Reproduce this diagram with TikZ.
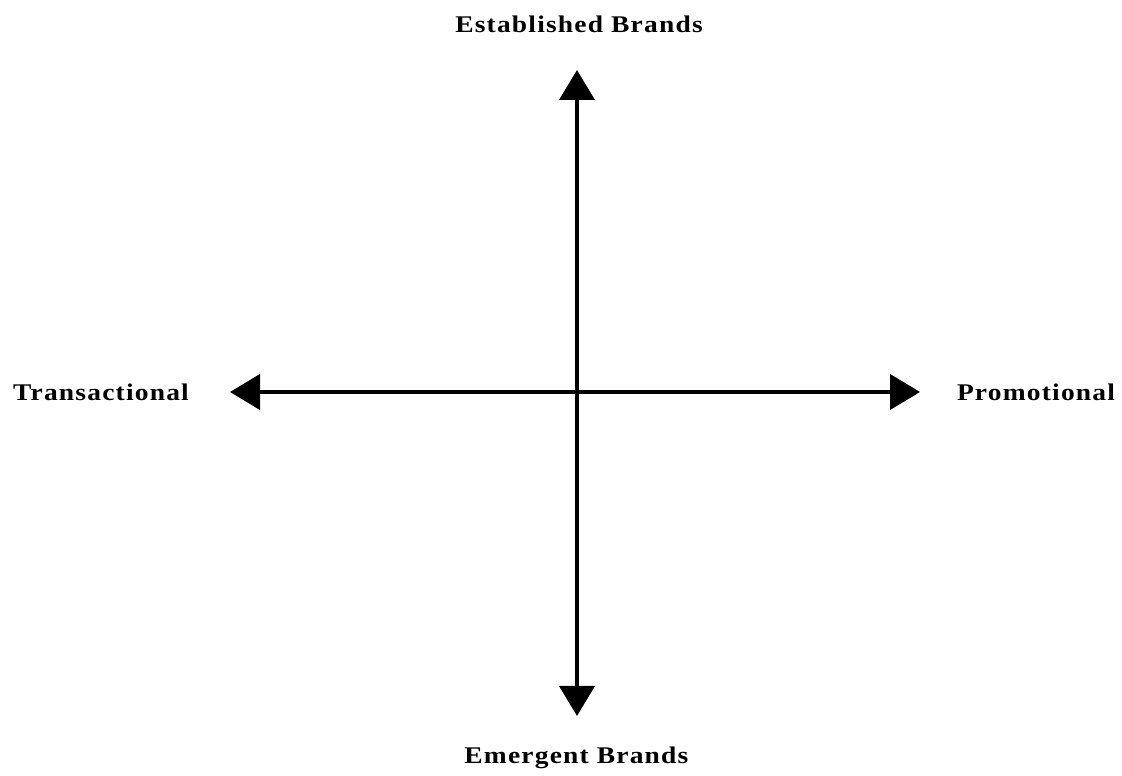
\documentclass[tikz,border=0pt]{standalone}
\usepackage{fontspec}
\setmainfont{Liberation Serif}
\newfontfamily\axisfont[LetterSpace=5, FakeStretch=1.15]{Liberation Serif}
\usepackage{tikz}
\usetikzlibrary{
    arrows.meta,
    positioning
}

\begin{document}
\begin{tikzpicture}[
    axislabel/.style={
        font=\axisfont\bfseries\fontsize{17}{20}\selectfont,
        inner sep=0pt,
        align=center
    },
    axis/.style={
        draw=black,
        line width=0.1cm,
        {Triangle[length=0.75cm, width=0.875cm]}-{Triangle[length=0.75cm, width=0.875cm]}
    }
]

% Frame
\useasboundingbox (0, 0) rectangle (28.05, 19.4);

% Axis end points
\coordinate (top) at (14.425, 17.65);
\coordinate (bottom) at (14.425, 1.5);
\coordinate (left) at (5.75, 9.6);
\coordinate (right) at (23.0, 9.6);

% Axes
\draw[axis] (bottom) -- (top);
\draw[axis] (left) -- (right);

% Labels
\node[axislabel] (established) at (14.475, 18.8) {Established Brands};
\node[axislabel] (emergent) at (14.41, 0.45) {Emergent Brands};
\node[axislabel] (transactional) at (2.525, 9.6) {Transactional};
\node[axislabel] (promotional) at (25.9, 9.6) {Promotional};

\end{tikzpicture}
\end{document}
